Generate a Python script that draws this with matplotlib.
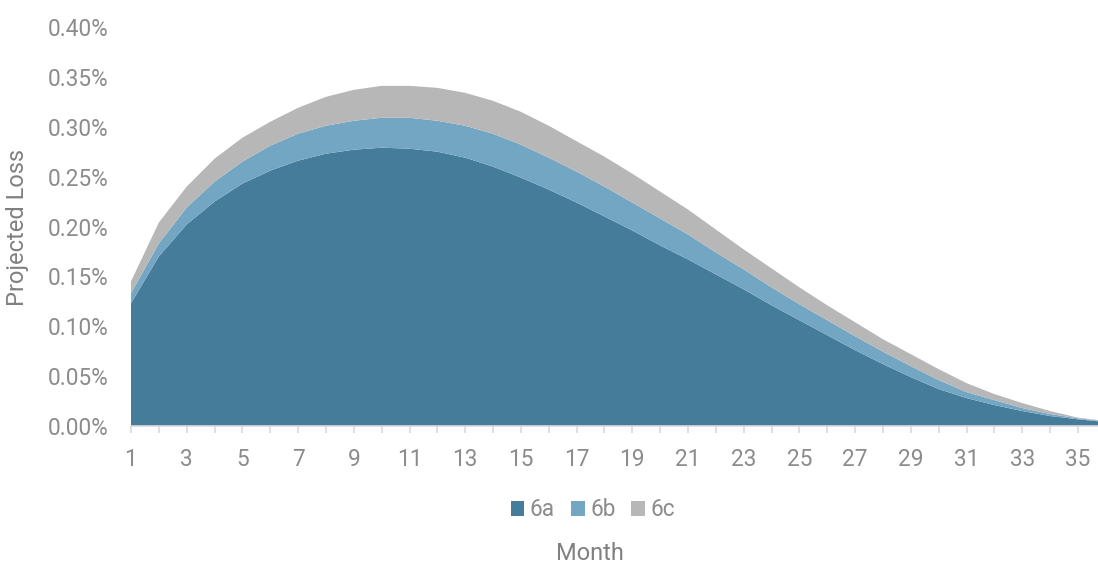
import matplotlib
matplotlib.use("Agg")
import matplotlib.pyplot as plt
from matplotlib.patches import Patch
from matplotlib.ticker import FuncFormatter, FixedLocator

# Monthly projected loss (%), by tranche
months = list(range(1, 37))
loss_6a = [0.123, 0.170, 0.202, 0.225, 0.243, 0.256, 0.266, 0.273, 0.277, 0.279,
           0.278, 0.275, 0.269, 0.260, 0.249, 0.237, 0.224, 0.210, 0.196, 0.181,
           0.167, 0.152, 0.137, 0.121, 0.106, 0.091, 0.076, 0.062, 0.049, 0.037,
           0.028, 0.021, 0.015, 0.010, 0.0067, 0.0040]
loss_6b = [0.010, 0.013, 0.017, 0.020, 0.022, 0.025, 0.027, 0.028, 0.029, 0.030,
           0.031, 0.031, 0.032, 0.033, 0.033, 0.032, 0.031, 0.030, 0.028, 0.027,
           0.025, 0.022, 0.020, 0.018, 0.016, 0.015, 0.014, 0.0125, 0.011, 0.009,
           0.006, 0.005, 0.003, 0.002, 0.0010, 0.0005]
loss_6c = [0.012, 0.021, 0.021, 0.023, 0.024, 0.024, 0.026, 0.029, 0.031, 0.032,
           0.032, 0.033, 0.033, 0.033, 0.033, 0.032, 0.0305, 0.030, 0.029, 0.027,
           0.025, 0.023, 0.020, 0.019, 0.017, 0.015, 0.014, 0.0125, 0.012, 0.011,
           0.009, 0.006, 0.005, 0.003, 0.0007, 0.0005]
series_names = ["6a", "6b", "6c"]
y_ticks = [0.00, 0.05, 0.10, 0.15, 0.20, 0.25, 0.30, 0.35, 0.40]
x_label_months = list(range(1, 36, 2))

colors = ["#447c9a", "#72a6c2", "#b7b7b7"]
tick_color = "#8c8c8c"
label_color = "#808080"

plt.rcParams["font.family"] = ["Roboto", "DejaVu Sans"]
plt.rcParams["font.weight"] = "normal"

fig = plt.figure(figsize=(10.98, 5.63), dpi=100)
ax = fig.add_axes([131 / 1098, 137 / 563, 967 / 1098, 399 / 563])

ax.stackplot(months, loss_6a, loss_6b, loss_6c, colors=colors,
             labels=series_names, linewidth=0, antialiased=True)

ax.set_xlim(1, 1 + 967 / 27.85)
ax.set_ylim(0, 0.40)

ax.yaxis.set_major_locator(FixedLocator(y_ticks))
ax.yaxis.set_major_formatter(FuncFormatter(lambda v, _: f"{v:.2f}%"))
ax.xaxis.set_major_locator(FixedLocator(x_label_months))
ax.xaxis.set_minor_locator(FixedLocator([m for m in months if m % 2 == 0]))

ax.tick_params(axis="y", length=0, pad=16, labelsize=16.3, labelcolor=tick_color)
ax.tick_params(axis="x", which="both", length=5, width=1.2, color="#d9d9d9",
               direction="out", pad=11, labelsize=16.3, labelcolor=tick_color)

for side in ("left", "right", "top"):
    ax.spines[side].set_visible(False)
ax.spines["bottom"].set_color("#d9d9d9")
ax.spines["bottom"].set_linewidth(1.2)
ax.set_facecolor("none")

fig.text(18 / 1098, 1 - 228 / 563, "Projected Loss", rotation=90,
         ha="center", va="center", fontsize=17, color=label_color)
fig.text(590 / 1098, 1 - 553 / 563, "Month", ha="center", va="center",
         fontsize=17, color=label_color)

handles = [Patch(facecolor=c, edgecolor="none") for c in colors]
leg = fig.legend(handles, series_names, loc="center", ncol=3,
                 bbox_to_anchor=(593 / 1098, 1 - 510 / 563), frameon=False,
                 fontsize=16.3, handlelength=0.6, handleheight=0.6,
                 handletextpad=0.25, columnspacing=0.7, borderaxespad=0)
for t in leg.get_texts():
    t.set_color(tick_color)

fig.savefig("out.png", dpi=100)
